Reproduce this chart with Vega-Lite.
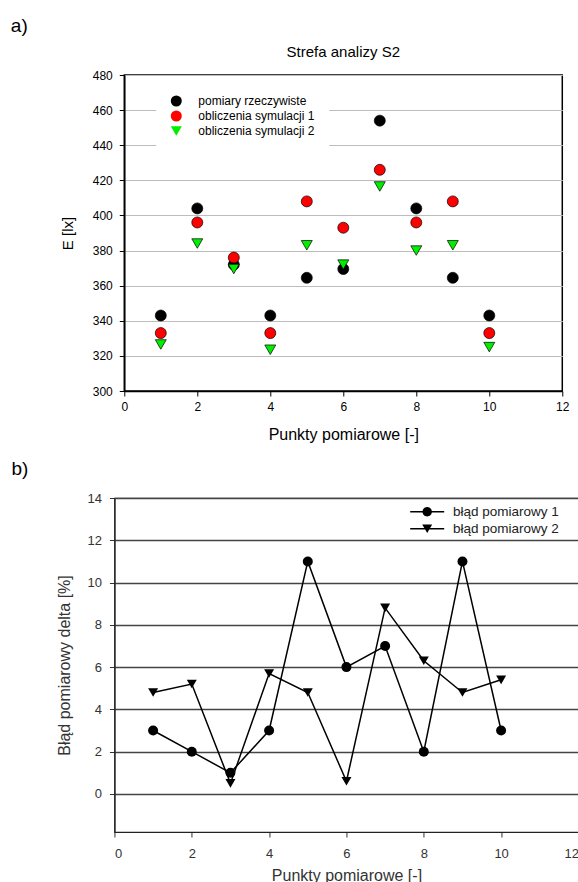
{
  "$schema": "https://vega.github.io/schema/vega-lite/v6.json",
  "padding": {"left": 10, "top": 17, "right": 0, "bottom": 0},
  "background": "white",
  "title": {"text": "a)", "anchor": "start", "frame": "bounds", "fontSize": 19, "fontWeight": "normal", "font": "Liberation Sans", "color": "black", "offset": 8},
  "center": true,
  "spacing": 16,
  "resolve": {"scale": {"shape": "independent", "color": "independent"}, "legend": {"shape": "independent", "color": "independent"}},
  "config": {
    "font": "Liberation Sans",
    "view": {"stroke": null},
    "axis": {"labelFont": "Liberation Sans", "titleFont": "Liberation Sans", "titleFontWeight": "normal", "labelColor": "black", "titleColor": "black", "domainColor": "black", "tickColor": "black"},
    "title": {"font": "Liberation Sans", "fontWeight": "normal", "color": "black"},
    "legend": {"labelFont": "Liberation Sans"}
  },
  "datasets": {
    "pomiary": [
      {"punkt": 1, "E": 343, "seria": "pomiary rzeczywiste"},
      {"punkt": 2, "E": 404, "seria": "pomiary rzeczywiste"},
      {"punkt": 3, "E": 372, "seria": "pomiary rzeczywiste"},
      {"punkt": 4, "E": 343, "seria": "pomiary rzeczywiste"},
      {"punkt": 5, "E": 364.5, "seria": "pomiary rzeczywiste"},
      {"punkt": 6, "E": 369.5, "seria": "pomiary rzeczywiste"},
      {"punkt": 7, "E": 454, "seria": "pomiary rzeczywiste"},
      {"punkt": 8, "E": 404, "seria": "pomiary rzeczywiste"},
      {"punkt": 9, "E": 364.5, "seria": "pomiary rzeczywiste"},
      {"punkt": 10, "E": 343, "seria": "pomiary rzeczywiste"},
      {"punkt": 1, "E": 333, "seria": "obliczenia symulacji 1"},
      {"punkt": 2, "E": 396, "seria": "obliczenia symulacji 1"},
      {"punkt": 3, "E": 376, "seria": "obliczenia symulacji 1"},
      {"punkt": 4, "E": 333, "seria": "obliczenia symulacji 1"},
      {"punkt": 5, "E": 408, "seria": "obliczenia symulacji 1"},
      {"punkt": 6, "E": 393, "seria": "obliczenia symulacji 1"},
      {"punkt": 7, "E": 426, "seria": "obliczenia symulacji 1"},
      {"punkt": 8, "E": 396, "seria": "obliczenia symulacji 1"},
      {"punkt": 9, "E": 408, "seria": "obliczenia symulacji 1"},
      {"punkt": 10, "E": 333, "seria": "obliczenia symulacji 1"},
      {"punkt": 1, "E": 326.5, "seria": "obliczenia symulacji 2"},
      {"punkt": 2, "E": 384, "seria": "obliczenia symulacji 2"},
      {"punkt": 3, "E": 369.5, "seria": "obliczenia symulacji 2"},
      {"punkt": 4, "E": 323.5, "seria": "obliczenia symulacji 2"},
      {"punkt": 5, "E": 383, "seria": "obliczenia symulacji 2"},
      {"punkt": 6, "E": 372, "seria": "obliczenia symulacji 2"},
      {"punkt": 7, "E": 416.5, "seria": "obliczenia symulacji 2"},
      {"punkt": 8, "E": 380, "seria": "obliczenia symulacji 2"},
      {"punkt": 9, "E": 383, "seria": "obliczenia symulacji 2"},
      {"punkt": 10, "E": 325, "seria": "obliczenia symulacji 2"}
    ],
    "bledy": [
      {"punkt": 1, "delta": 3, "seria": "błąd pomiarowy 1"},
      {"punkt": 2, "delta": 2, "seria": "błąd pomiarowy 1"},
      {"punkt": 3, "delta": 1, "seria": "błąd pomiarowy 1"},
      {"punkt": 4, "delta": 3, "seria": "błąd pomiarowy 1"},
      {"punkt": 5, "delta": 11, "seria": "błąd pomiarowy 1"},
      {"punkt": 6, "delta": 6, "seria": "błąd pomiarowy 1"},
      {"punkt": 7, "delta": 7, "seria": "błąd pomiarowy 1"},
      {"punkt": 8, "delta": 2, "seria": "błąd pomiarowy 1"},
      {"punkt": 9, "delta": 11, "seria": "błąd pomiarowy 1"},
      {"punkt": 10, "delta": 3, "seria": "błąd pomiarowy 1"},
      {"punkt": 1, "delta": 4.8, "seria": "błąd pomiarowy 2"},
      {"punkt": 2, "delta": 5.2, "seria": "błąd pomiarowy 2"},
      {"punkt": 3, "delta": 0.5, "seria": "błąd pomiarowy 2"},
      {"punkt": 4, "delta": 5.7, "seria": "błąd pomiarowy 2"},
      {"punkt": 5, "delta": 4.8, "seria": "błąd pomiarowy 2"},
      {"punkt": 6, "delta": 0.6, "seria": "błąd pomiarowy 2"},
      {"punkt": 7, "delta": 8.8, "seria": "błąd pomiarowy 2"},
      {"punkt": 8, "delta": 6.3, "seria": "błąd pomiarowy 2"},
      {"punkt": 9, "delta": 4.8, "seria": "błąd pomiarowy 2"},
      {"punkt": 10, "delta": 5.4, "seria": "błąd pomiarowy 2"}
    ]
  },
  "vconcat": [
    {
      "width": 438,
      "height": 316,
      "view": {"stroke": "black", "strokeWidth": 1.5},
      "title": {"text": "Strefa analizy S2", "fontSize": 15, "offset": 9},
      "data": {"name": "pomiary"},
      "mark": {"type": "point", "filled": true, "size": 121, "stroke": "black", "strokeWidth": 0.7, "opacity": 1},
      "encoding": {
        "x": {"field": "punkt", "type": "quantitative", "scale": {"domain": [0, 12], "nice": false},
          "axis": {"values": [0, 2, 4, 6, 8, 10, 12], "labelFlush": false, "title": "Punkty pomiarowe [-]", "titleFontSize": 16, "labelFontSize": 12, "grid": false, "tickSize": 5, "labelPadding": 5, "titlePadding": 14, "domainWidth": 1.5}},
        "y": {"field": "E", "type": "quantitative", "scale": {"domain": [300, 480], "nice": false},
          "axis": {"values": [300, 320, 340, 360, 380, 400, 420, 440, 460, 480], "title": "E [lx]", "titleFontSize": 15, "labelFontSize": 12, "grid": true, "gridColor": "#bdbdbd", "gridWidth": 1, "tickSize": 5, "labelPadding": 7, "titlePadding": 17, "domainWidth": 1.5}},
        "color": {"field": "seria", "type": "nominal",
          "scale": {"domain": ["pomiary rzeczywiste", "obliczenia symulacji 1", "obliczenia symulacji 2"], "range": ["#000000", "#ff0000", "#00ee00"]},
          "legend": {"title": null, "orient": "none", "legendX": 32, "legendY": 6, "padding": 14, "fillColor": "white", "labelFontSize": 12, "labelColor": "black", "symbolSize": 121, "symbolStrokeColor": "black", "symbolStrokeWidth": 0.7, "symbolOpacity": 1, "labelOffset": 16, "rowPadding": 1}},
        "shape": {"field": "seria", "type": "nominal",
          "scale": {"domain": ["pomiary rzeczywiste", "obliczenia symulacji 1", "obliczenia symulacji 2"], "range": ["circle", "circle", "triangle-down"]},
          "legend": {"title": null, "orient": "none", "legendX": 32, "legendY": 6, "padding": 14, "fillColor": "white", "labelFontSize": 12, "labelColor": "black", "symbolSize": 121, "symbolStrokeColor": "black", "symbolStrokeWidth": 0.7, "symbolOpacity": 1, "labelOffset": 16, "rowPadding": 1}}
      }
    },
    {
      "width": 464,
      "height": 334,
      "view": {"stroke": "#222222", "strokeWidth": 1.2},
      "title": {"text": "b)", "anchor": "start", "frame": "group", "dx": -103, "fontSize": 19, "offset": 13},
      "data": {"name": "bledy"},
      "resolve": {"scale": {"shape": "independent"}, "legend": {"shape": "independent"}},
      "encoding": {
        "x": {"field": "punkt", "type": "quantitative", "scale": {"domain": [0, 12], "nice": false},
          "axis": {"values": [0, 2, 4, 6, 8, 10, 12], "title": "Punkty pomiarowe [-]", "titleFontSize": 16, "titleColor": "#333333", "labelFontSize": 13, "labelColor": "#333333", "grid": false, "tickSize": 5, "labelPadding": 10, "titlePadding": 7, "domainColor": "#222222", "domainWidth": 1.2, "tickColor": "#333333"}},
        "y": {"field": "delta", "type": "quantitative", "scale": {"domain": [-1.8, 14], "nice": false, "zero": false},
          "axis": {"values": [0, 2, 4, 6, 8, 10, 12, 14], "title": "Błąd pomiarowy delta [%]", "titleFontSize": 16, "titleColor": "#333333", "labelFontSize": 13, "labelColor": "#333333", "grid": true, "gridColor": "#444444", "gridWidth": 1.3, "tickSize": 5, "labelPadding": 8, "titlePadding": 14, "domainColor": "#222222", "domainWidth": 1.2, "tickColor": "#333333"}}
      },
      "layer": [
        {"mark": {"type": "line", "color": "black", "strokeWidth": 1.5}, "encoding": {"detail": {"field": "seria", "type": "nominal"}}},
        {"mark": {"type": "point", "filled": true, "color": "black", "size": 100, "opacity": 1},
          "encoding": {"shape": {"field": "seria", "type": "nominal",
            "scale": {"domain": ["błąd pomiarowy 1", "błąd pomiarowy 2"], "range": ["circle", "triangle-down"]},
            "legend": null}}},
        {"mark": {"type": "point", "filled": true, "color": "black", "size": 0, "opacity": 1},
          "encoding": {"shape": {"field": "seria", "type": "nominal",
            "scale": {"domain": ["błąd pomiarowy 1", "błąd pomiarowy 2"], "range": ["M-3.4,-0.15L-0.9,-0.15L-0.9,0.15L-3.4,0.15Z M0.9,-0.15L3.4,-0.15L3.4,0.15L0.9,0.15Z M0.94,0A0.94,0.94 0 1,1 -0.94,0A0.94,0.94 0 1,1 0.94,0Z", "M-3.4,-0.15L-0.45,-0.15L-0.45,0.15L-3.4,0.15Z M0.45,-0.15L3.4,-0.15L3.4,0.15L0.45,0.15Z M0,0.866L-1,-0.866L1,-0.866Z"]},
            "legend": {"title": null, "orient": "none", "legendX": 301, "legendY": 2, "padding": 5, "labelFontSize": 13.5, "labelColor": "#222222", "symbolSize": 100, "symbolFillColor": "black", "symbolStrokeColor": "black", "symbolStrokeWidth": 1.5, "symbolOpacity": 1, "labelOffset": 19, "rowPadding": 1}}}}
      ]
    }
  ]
}
